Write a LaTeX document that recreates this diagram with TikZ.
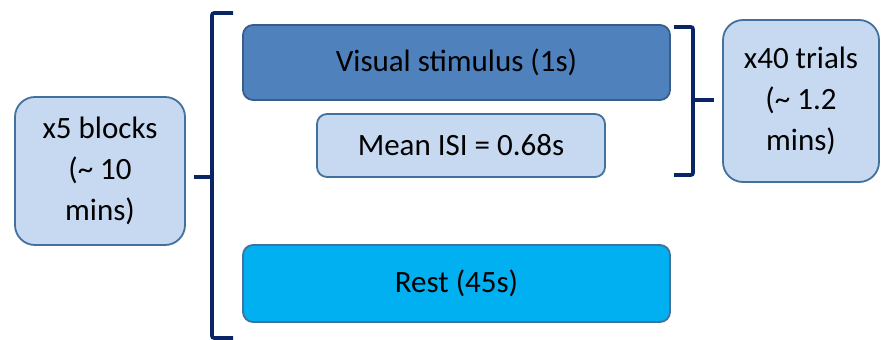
\documentclass[tikz,border=0pt]{standalone}
\usepackage{fontspec}
\setmainfont{Carlito}
\definecolor{paleblue}{HTML}{C6D9F1}
\definecolor{midblue}{HTML}{4F81BD}
\definecolor{skyblue}{HTML}{00B0F0}
\definecolor{edgeblue}{HTML}{41719C}
\definecolor{darkedge}{HTML}{385D8A}
\definecolor{navy}{HTML}{0A2466}
\begin{document}
\begin{tikzpicture}[x=1pt,y=-1pt,
  box/.style={draw=edgeblue,line width=1.8pt,rounded corners=10pt,
    align=center,inner sep=0pt,font=\fontsize{31}{41}\selectfont,text=black},
  brace/.style={draw=navy,line width=3.6pt,rounded corners=2pt}]
\useasboundingbox (0,0) rectangle (881,340);

% outer block box and its bracket
\node[box,fill=paleblue,rounded corners=20pt,minimum width=170pt,minimum height=148pt]
  (blocks) at (100,171) {x5 blocks\\(\textasciitilde{} 10\\mins)};

% trial content
\node[box,fill=midblue,draw=darkedge,minimum width=427pt,minimum height=75pt]
  (stim) at (456.5,62.5) {Visual stimulus (1s)};
\node[box,fill=paleblue,minimum width=288pt,minimum height=63pt]
  (isi) at (461,145.5) {Mean ISI = 0.68s};
\node[box,fill=skyblue,minimum width=427pt,minimum height=77pt]
  (rest) at (456.5,283.5) {Rest (45s)};

% trial count box
\node[box,fill=paleblue,rounded corners=20pt,minimum width=156pt,minimum height=162pt]
  (trials) at (801,101) {x40 trials\\(\textasciitilde{} 1.2\\mins)};

% left bracket spanning the block
\coordinate (lt) at (233,13);
\coordinate (lb) at (233,338);
\draw[brace] (lt) -- (212,13) -- (212,338) -- (lb);
\draw[brace,shorten >=8pt] (212,177) -- (blocks.east |- 0,177);

% right bracket spanning one trial
\coordinate (rt) at (674,27);
\coordinate (rb) at (674,175);
\draw[brace] (rt) -- (693,27) -- (693,175) -- (rb);
\draw[brace,shorten >=8pt] (693,100) -- (trials.west |- 0,100);
\end{tikzpicture}
\end{document}
